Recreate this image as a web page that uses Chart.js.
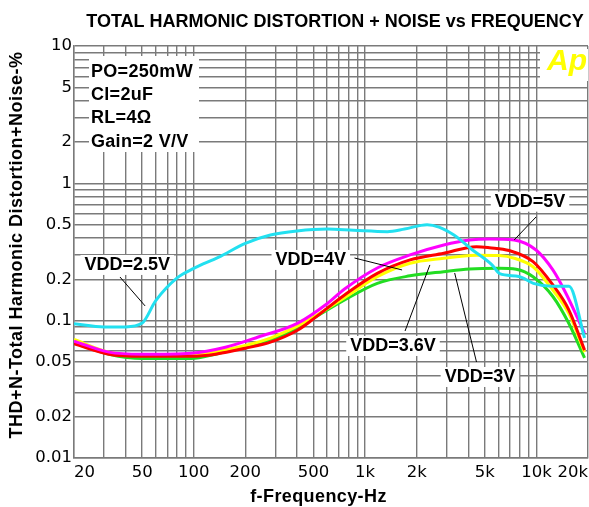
<!DOCTYPE html>
<html><head><meta charset="utf-8">
<script src="https://cdn.jsdelivr.net/npm/chart.js@4.4.0/dist/chart.umd.min.js"></script>
<style>
html,body{margin:0;padding:0;background:#fff;overflow:hidden;width:589px;height:507px}
#wrap{position:absolute;left:0;top:0;width:593px;height:507px}
</style>
</head><body><div id="wrap"><canvas id="c" width="593" height="507"></canvas></div>
<script>
// ---------- data ----------
const freq25 = [20, 30, 40, 50, 60, 80, 100, 140, 200, 280, 400, 600, 860, 1350, 1700, 2300, 2700, 3300, 4200, 5500, 6100, 7900, 9600, 12300, 15500, 19100];
const thd25  = [0.095, 0.090, 0.090, 0.096, 0.14, 0.205, 0.24, 0.29, 0.365, 0.42, 0.45, 0.465, 0.455, 0.445, 0.465, 0.50, 0.48, 0.42, 0.33, 0.255, 0.22, 0.21, 0.187, 0.178, 0.178, 0.075];

const freq5 = [20, 32, 50, 97, 153, 238, 405, 605, 759, 1178, 1829, 2878, 4070, 5314, 7418, 9950, 12470, 14830, 19100];
const thd5  = [0.071, 0.059, 0.057, 0.058, 0.064, 0.076, 0.096, 0.134, 0.17, 0.242, 0.301, 0.356, 0.387, 0.394, 0.387, 0.327, 0.234, 0.159, 0.081];

const freq4 = [20, 32, 50, 97, 134, 200, 283, 405, 481, 759, 1178, 1829, 2878, 4470, 5314, 6937, 9556, 12470, 15450, 19100];
const thd4  = [0.068, 0.057, 0.055, 0.055, 0.057, 0.063, 0.070, 0.0855, 0.0995, 0.154, 0.221, 0.277, 0.31, 0.346, 0.340, 0.324, 0.269, 0.182, 0.120, 0.061];

const freq36 = [20, 32, 50, 97, 134, 200, 283, 405, 481, 759, 1178, 1829, 2878, 4070, 4470, 6070, 7418, 9556, 12470, 15450, 19100];
const thd36  = [0.073, 0.059, 0.056, 0.056, 0.0595, 0.066, 0.075, 0.0915, 0.103, 0.147, 0.209, 0.262, 0.285, 0.298, 0.300, 0.298, 0.285, 0.247, 0.167, 0.113, 0.059];

const freq3 = [20, 32, 50, 97, 134, 200, 283, 405, 481, 759, 1178, 1829, 2878, 4070, 6070, 7620, 9556, 12470, 15450, 19100];
const thd3  = [0.069, 0.057, 0.053, 0.053, 0.057, 0.0647, 0.0723, 0.088, 0.101, 0.1415, 0.187, 0.212, 0.2275, 0.238, 0.241, 0.237, 0.209, 0.150, 0.0957, 0.0535];

const xGridValues = [20,30,40,50,60,70,80,90,100,200,300,400,500,600,700,800,900,1000,2000,3000,4000,5000,6000,7000,8000,9000,10000,20000];
const xTickText   = ['20','','','50','','','','','100','200','','','500','','','','','1k','2k','','','5k','','','','','10k','20k'];
const yGridValues = [0.01,0.02,0.03,0.04,0.05,0.06,0.07,0.08,0.09,0.1,0.2,0.3,0.4,0.5,0.6,0.7,0.8,0.9,1,2,3,4,5,6,7,8,9,10];
const yTickText   = ['0.01','0.02','','','0.05','','','','','0.1','0.2','','','0.5','','','','','1','2','','','5','','','','','10'];

const titleText = 'TOTAL HARMONIC DISTORTION + NOISE vs FREQUENCY';
const xTitleText = 'f-Frequency-Hz';
const yTitleText = 'THD+N-Total Harmonic Distortion+Noise-%';
const conditions = ['PO=250mW', 'Cl=2uF', 'RL=4\u03A9', 'Gain=2 V/V'];

// annotation labels in data coordinates (label centre, leader start, leader end)
const annotations = [
  {text:'VDD=2.5V', f:40.9, v:0.2545, from:[37.1,0.208], to:[52,0.128]},
  {text:'VDD=4V',   f:482,  v:0.2768, from:[867,0.286],  to:[1644,0.234]},
  {text:'VDD=3.6V', f:1455, v:0.0654, from:[1711,0.0841], to:[2388,0.2545]},
  {text:'VDD=3V',   f:4680, v:0.0389, from:[4470,0.050], to:[3333,0.2225]},
  {text:'VDD=5V',   f:9180, v:0.7355, from:[9950,0.569], to:[7418,0.387]}
];

function pts(f, v){ return f.map((x,i)=>({x:x, y:v[i]})); }

const GRID = '#7a7a7a';
const AR = '"Liberation Sans", Arial, sans-serif';

const decor = {
  id:'decor',
  beforeDraw(chart){
    const c = chart.ctx; c.save(); c.fillStyle='#fff'; c.fillRect(0,0,chart.width,chart.height); c.restore();
  },
  beforeDatasetsDraw(chart){
    const ctx = chart.ctx, a = chart.chartArea, xs = chart.scales.x, ys = chart.scales.y;
    ctx.save();
    // conditions block
    ctx.fillStyle='#fff';
    ctx.fillRect(a.left+15, a.top+10, 110, 96);
    ctx.font = 'bold 18px ' + AR;
    try { ctx.letterSpacing = '0.3px'; } catch(e){}
    ctx.fillStyle='#000'; ctx.textAlign='left'; ctx.textBaseline='alphabetic';
    conditions.forEach((t,i)=>ctx.fillText(t, a.left+17, a.top+30.7+i*23.33));
    try { ctx.letterSpacing = '0px'; } catch(e){}
    // Ap logo
    ctx.fillStyle='#fff'; ctx.fillRect(a.right-48, a.top+3, 48, 32);
    ctx.font = 'italic bold 30px ' + AR; ctx.fillStyle='#ffff00';
    ctx.fillText('Ap', a.right-41, a.top+24);
    // annotation labels
    ctx.font = 'bold 18px ' + AR; ctx.textAlign='center'; ctx.textBaseline='middle';
    annotations.forEach(an=>{
      const cx = xs.getPixelForValue(an.f), cy = ys.getPixelForValue(an.v);
      const w = ctx.measureText(an.text).width;
      ctx.fillStyle='#fff'; ctx.fillRect(cx-w/2-4, cy-10, w+8, 20);
      ctx.fillStyle='#000'; ctx.fillText(an.text, cx, cy+0.5);
    });
    ctx.restore();
  },
  afterDatasetsDraw(chart){
    const ctx = chart.ctx, xs = chart.scales.x, ys = chart.scales.y;
    ctx.save();
    ctx.strokeStyle='#000'; ctx.lineWidth=1;
    annotations.forEach(an=>{
      ctx.beginPath();
      ctx.moveTo(xs.getPixelForValue(an.from[0]), ys.getPixelForValue(an.from[1]));
      ctx.lineTo(xs.getPixelForValue(an.to[0]), ys.getPixelForValue(an.to[1]));
      ctx.stroke();
    });
    ctx.restore();
  },
  afterDraw(chart){
    const ctx = chart.ctx;
    ctx.save();
    ctx.fillStyle='#000';
    ctx.font = 'bold 18px ' + AR;
    ctx.textAlign='center'; ctx.textBaseline='alphabetic';
    ctx.fillText(titleText, 335, 27.3);
    try { ctx.letterSpacing = '0.4px'; } catch(e){}
    ctx.fillText(xTitleText, 318.5, 501.5);
    try { ctx.letterSpacing = '0.5px'; } catch(e){}
    ctx.translate(21.5, 245);
    ctx.rotate(-Math.PI/2);
    ctx.fillText(yTitleText, 0, 0);
    ctx.restore();
  }
};

const lineDs = (label, f, v, color) => ({
  label, data: pts(f, v), borderColor: color, backgroundColor: color,
  borderWidth: 3, pointRadius: 0, fill: false, cubicInterpolationMode: 'monotone'
});

new Chart(document.getElementById('c'), {
  type: 'line',
  data: {
    datasets: [
      lineDs('VDD=2.5V', freq25, thd25, '#22e0f0'),
      lineDs('VDD=5V', freq5, thd5, '#ff00ff'),
      lineDs('VDD=4V', freq4, thd4, '#ff0000'),
      lineDs('VDD=3.6V', freq36, thd36, '#ffff00'),
      lineDs('VDD=3V', freq3, thd3, '#22dd22')
    ]
  },
  options: {
    responsive: false, animation: false, devicePixelRatio: 1,
    layout: { padding: { top: 46, left: 0, right: 0, bottom: 0 } },
    plugins: { legend: { display: false }, tooltip: { enabled: false }, title: { display: false } },
    scales: {
      x: {
        type: 'logarithmic', min: 20, max: 20000,
        afterBuildTicks: s => { s.ticks = xGridValues.map(v => ({ value: v })); },
        afterFit: s => { s.height = 49; },
        grid: { color: GRID, lineWidth: 1.4, drawTicks: false },
        border: { display: true, color: GRID, width: 1.4 },
        ticks: {
          autoSkip: false, maxRotation: 0, minRotation: 0, align: 'inner', padding: 5,
          color: '#000', font: { family: 'DejaVu Sans', size: 16.5 },
          callback: (val, i) => xTickText[i]
        }
      },
      y: {
        type: 'logarithmic', min: 0.01, max: 10,
        afterBuildTicks: s => { s.ticks = yGridValues.map(v => ({ value: v })); },
        afterFit: s => { s.width = 74; },
        grid: { color: GRID, lineWidth: 1.4, drawTicks: false },
        border: { display: true, color: GRID, width: 1.4 },
        ticks: {
          autoSkip: false, padding: 2,
          color: '#000', font: { family: 'DejaVu Sans', size: 16.5 },
          callback: (val, i) => yTickText[i]
        }
      }
    }
  },
  plugins: [decor]
});
</script>
</body></html>
